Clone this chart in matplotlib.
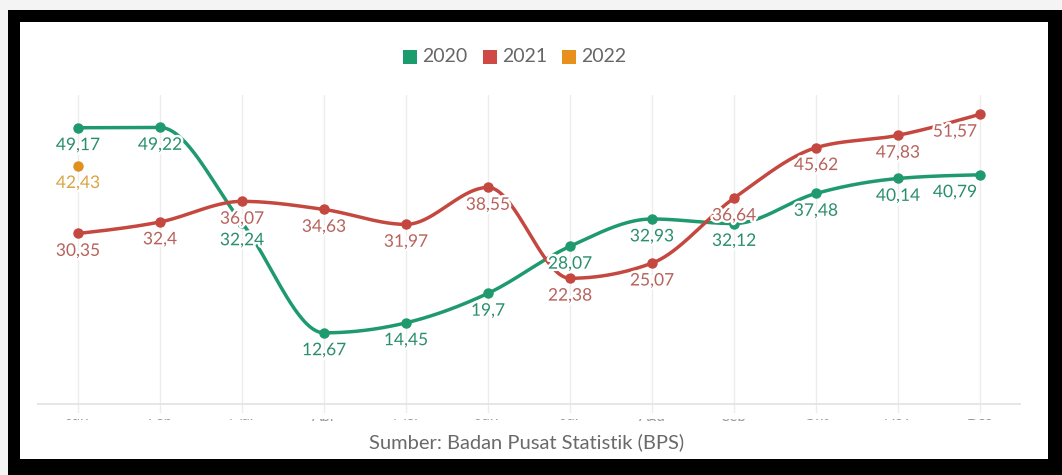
import numpy as np
import matplotlib
matplotlib.use("Agg")
import matplotlib.pyplot as plt
from matplotlib.patches import Rectangle
from matplotlib import patheffects as pe
from matplotlib.transforms import Bbox, TransformedBbox, blended_transform_factory

plt.rcParams['font.family'] = ['Lato', 'DejaVu Sans']

# --- data -------------------------------------------------------------
months = ["Jan", "Feb", "Mar", "Apr", "Mei", "Jun",
          "Jul", "Agu", "Sep", "Okt", "Nov", "Des"]
series_names = ["2020", "2021", "2022"]
values_2020 = [49.17, 49.22, 32.24, 12.67, 14.45, 19.7,
               28.07, 32.93, 32.12, 37.48, 40.14, 40.79]
values_2021 = [30.35, 32.4, 36.07, 34.63, 31.97, 38.55,
               22.38, 25.07, 36.64, 45.62, 47.83, 51.57]
values_2022 = [42.43]
source_text = "Sumber: Badan Pusat Statistik (BPS)"

line_colors = ["#1f9a6e", "#c4483f", "#e0901f"]
label_colors = ["#2a8e6c", "#b7625c", "#d9a443"]
legend_colors = ["#1a9c6c", "#cf4a45", "#e8901c"]


def monotone_curve(y, n=40):
    """Monotone cubic path through unit-spaced points."""
    y = np.asarray(y, float)
    k = len(y)
    if k < 2:
        return np.arange(k, dtype=float), y
    s = np.diff(y)
    t = np.zeros(k)
    for i in range(1, k - 1):
        s0, s1 = s[i - 1], s[i]
        if s0 * s1 <= 0:
            t[i] = 0.0
        else:
            p = (s0 + s1) / 2
            t[i] = (np.sign(s0) + np.sign(s1)) * min(abs(s0), abs(s1), 0.5 * abs(p))
    t[0] = (3 * s[0] - t[1]) / 2
    t[-1] = (3 * s[-1] - t[-2]) / 2
    xs, ys = [], []
    for i in range(k - 1):
        u = np.linspace(0, 1, n, endpoint=(i == k - 2))
        h00 = 2 * u**3 - 3 * u**2 + 1
        h10 = u**3 - 2 * u**2 + u
        h01 = -2 * u**3 + 3 * u**2
        h11 = u**3 - u**2
        xs.append(i + u)
        ys.append(h00 * y[i] + h10 * t[i] + h01 * y[i + 1] + h11 * t[i + 1])
    return np.concatenate(xs), np.concatenate(ys)


W, H = 1062, 475
fig = plt.figure(figsize=(W / 100, H / 100), dpi=100)
fig.patch.set_facecolor("#f4f4f4")

# dark frame and white card
fig.patches.append(Rectangle((8 / W, 0), 1 - 8 / W, (H - 10) / H,
                             transform=fig.transFigure, facecolor="black",
                             edgecolor="none", zorder=-10))
fig.patches.append(Rectangle((20 / W, (H - 459) / H), (1048 - 20) / W, (459 - 22) / H,
                             transform=fig.transFigure, facecolor="white",
                             edgecolor="none", zorder=-9))

ax = fig.add_axes([37 / W, (H - 413) / H, 984 / W, 318 / H])
ax.set_facecolor("none")
ax.set_xlim(-0.5, 11.5)
ax.set_ylim(-1.6, 55)
for sp in ax.spines.values():
    sp.set_visible(False)
ax.set_xticks([])
ax.set_yticks([])

x = np.arange(len(months))
for xi in x:
    ax.axvline(xi, color="#ececec", lw=1.0, zorder=0)
ax.axhline(0, color="#e2e2e2", lw=1.2, zorder=0.5)

all_series = [values_2020, values_2021, values_2022]
for vals, lc in zip(all_series, line_colors):
    xv = np.arange(len(vals))
    if len(vals) > 1:
        cx, cy = monotone_curve(vals)
        ax.plot(cx, cy, color=lc, lw=2.5, solid_capstyle="round", zorder=2)
    ax.plot(xv, vals, "o", color=lc, ms=6.5, zorder=3)

halo = [pe.withStroke(linewidth=3.5, foreground="white")]
for vals, tc in zip(all_series, label_colors):
    for i, v in enumerate(vals):
        dx = -18 if i == len(months) - 1 else 0
        ax.annotate(f"{v:g}".replace(".", ","), (i, v), xytext=(dx, -12.5),
                    textcoords="offset points", ha="center", va="center",
                    fontsize=12.5, color=tc, path_effects=halo, zorder=5)

# month labels, cut off by the lower edge of the chart area
clip = TransformedBbox(Bbox.from_extents(20 / W, (H - 420.5) / H, 1048 / W, (H - 418.5) / H),
                       fig.transFigure)
label_tr = blended_transform_factory(ax.transData, fig.transFigure)
for i, m in enumerate(months):
    t = ax.text(i, (H - 420.5) / H, m, transform=label_tr, ha="center",
                va="baseline", fontsize=11, color="#999999")
    t.set_clip_box(clip)
    t.set_clip_on(True)

# legend
legend_x = [403, 483, 562]
for nm, col, lx in zip(series_names, legend_colors, legend_x):
    fig.patches.append(Rectangle((lx / W, (H - 64) / H), 14 / W, 14 / H,
                                 transform=fig.transFigure, facecolor=col,
                                 edgecolor="none", zorder=5))
    fig.text((lx + 19) / W, (H - 57) / H, nm, ha="left", va="center",
             fontsize=14, color="#666666")

fig.text(527 / W, (H - 442) / H, source_text, ha="center", va="center",
         fontsize=14.5, color="#6a6a6a")

fig.savefig("out.png", dpi=100, facecolor=fig.get_facecolor())
